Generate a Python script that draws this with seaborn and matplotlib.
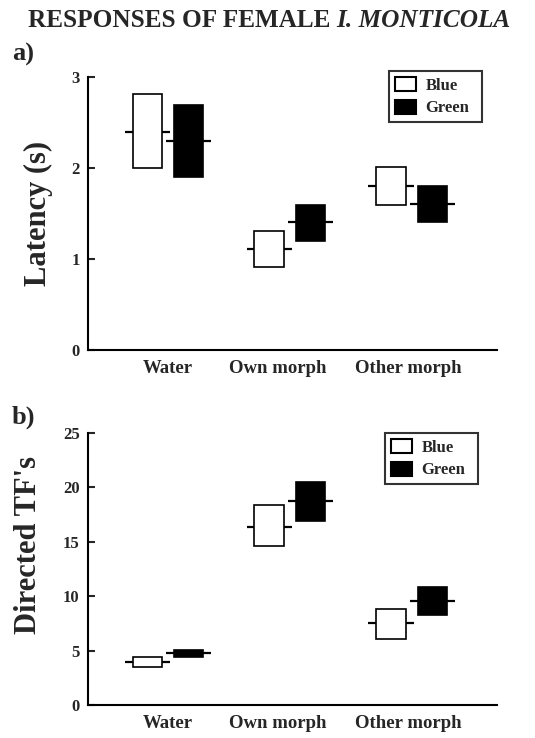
import seaborn as sns
import matplotlib.pyplot as plt
import matplotlib.patches as mpatches
import pandas as pd
import numpy as np

categories = ["Water", "Own morph", "Other morph"]
morphs = ["Blue", "Green"]

# latency (s): mean and lower / upper edge of each box
blue_lat_mean = [2.40, 1.11, 1.80]
blue_lat_low = [2.00, 0.91, 1.59]
blue_lat_high = [2.81, 1.31, 2.01]
green_lat_mean = [2.30, 1.41, 1.60]
green_lat_low = [1.90, 1.20, 1.41]
green_lat_high = [2.69, 1.59, 1.80]

# directed TF's
blue_tf_mean = [3.95, 16.4, 7.5]
blue_tf_low = [3.5, 14.6, 6.1]
blue_tf_high = [4.4, 18.4, 8.8]
green_tf_mean = [4.78, 18.75, 9.56]
green_tf_low = [4.4, 16.9, 8.3]
green_tf_high = [5.05, 20.5, 10.85]

lat_ticks = [0, 1, 2, 3]
tf_ticks = [0, 5, 10, 15, 20, 25]

sns.set_style("ticks")
plt.rcParams["font.family"] = ["Liberation Serif", "DejaVu Serif"]
plt.rcParams["font.weight"] = "bold"

fills = {"Blue": "white", "Green": "black"}
offsets = {"Blue": -0.17, "Green": 0.17}
label_pos = [0.0, 0.9, 1.97]   # the category labels sit a little off the box centres


def draw_panel(ax, series, yticks, ylabel, label_xy, legend_box):
    for morph in morphs:
        mean, low, high = series[morph]
        df = pd.DataFrame({
            "pos": np.arange(len(categories)) + offsets[morph],
            "height": np.array(high) - np.array(low),
        })
        sns.barplot(data=df, x="pos", y="height", native_scale=True, orient="x",
                    width=0.24, bottom=low, color=fills[morph], saturation=1,
                    edgecolor="black", linewidth=1.2, errorbar=None, ax=ax, zorder=3)
        ax.hlines(mean, df["pos"] - 0.185, df["pos"] + 0.185, color="black",
                  lw=1.6, zorder=2)

    ax.set_xlim(-0.656, 2.70)
    ax.set_ylim(yticks[0], yticks[-1])
    ax.set_yticks(yticks)
    ax.set_xticks(label_pos)
    ax.set_xticklabels(categories, fontsize=13.5, fontweight="bold")
    ax.tick_params(axis="x", length=0, pad=7)
    ax.tick_params(axis="y", direction="in", length=5, width=1.5, pad=6,
                   labelsize=12)
    for lab in ax.get_yticklabels():
        lab.set_fontweight("bold")
    ax.set_xlabel("")
    ax.set_ylabel(ylabel, fontsize=22, fontweight="bold")
    ax.yaxis.set_label_coords(*label_xy)
    sns.despine(ax=ax)
    for sp in ["left", "bottom"]:
        ax.spines[sp].set_linewidth(1.5)
        ax.spines[sp].set_color("black")

    handles = [mpatches.Patch(facecolor=fills[m], edgecolor="black", linewidth=1.5, label=m)
               for m in morphs]
    leg = ax.legend(handles=handles, loc="upper left", bbox_to_anchor=legend_box,
                    mode="expand", prop={"weight": "bold", "size": 12},
                    frameon=True, fancybox=False,
                    handlelength=1.25, handleheight=0.95, handletextpad=0.6,
                    borderpad=0.35, labelspacing=0.35, borderaxespad=0)
    leg.get_frame().set_edgecolor("black")
    leg.get_frame().set_linewidth(1.5)


fig = plt.figure(figsize=(5.35, 7.38), dpi=100)
ax_a = fig.add_axes([0.1645, 0.5257, 0.7645, 0.370])
ax_b = fig.add_axes([0.1645, 0.0447, 0.7645, 0.3686])

draw_panel(ax_a,
           {"Blue": (blue_lat_mean, blue_lat_low, blue_lat_high),
            "Green": (green_lat_mean, green_lat_low, green_lat_high)},
           lat_ticks, "Latency (s)", (-0.085, 0.5), (0.736, 0.835, 0.227, 0.187))
draw_panel(ax_b,
           {"Blue": (blue_tf_mean, blue_tf_low, blue_tf_high),
            "Green": (green_tf_mean, green_tf_low, green_tf_high)},
           tf_ticks, "Directed TF's", (-0.11, 0.59), (0.726, 0.81, 0.227, 0.19))

fig.text(12 / 535, 1 - 61 / 738, "a)", fontsize=19, fontweight="bold", va="baseline")
fig.text(12 / 535, 1 - 424 / 738, "b)", fontsize=19, fontweight="bold", va="baseline")

# title: upright part followed by italic species name
t1 = fig.text(0, 1 - 27 / 738, "RESPONSES OF FEMALE ", fontsize=18.2,
              fontweight="bold", va="baseline")
t2 = fig.text(0, 1 - 27 / 738, "I. MONTICOLA", fontsize=18.2,
              fontweight="bold", fontstyle="italic", va="baseline")
fig.canvas.draw()
r = fig.canvas.get_renderer()
w1 = t1.get_window_extent(r).width
w2 = t2.get_window_extent(r).width
x0 = 269 - (w1 + w2) / 2
t1.set_x(x0 / 535)
t2.set_x((x0 + w1) / 535)

fig.savefig("out.png", dpi=100)
